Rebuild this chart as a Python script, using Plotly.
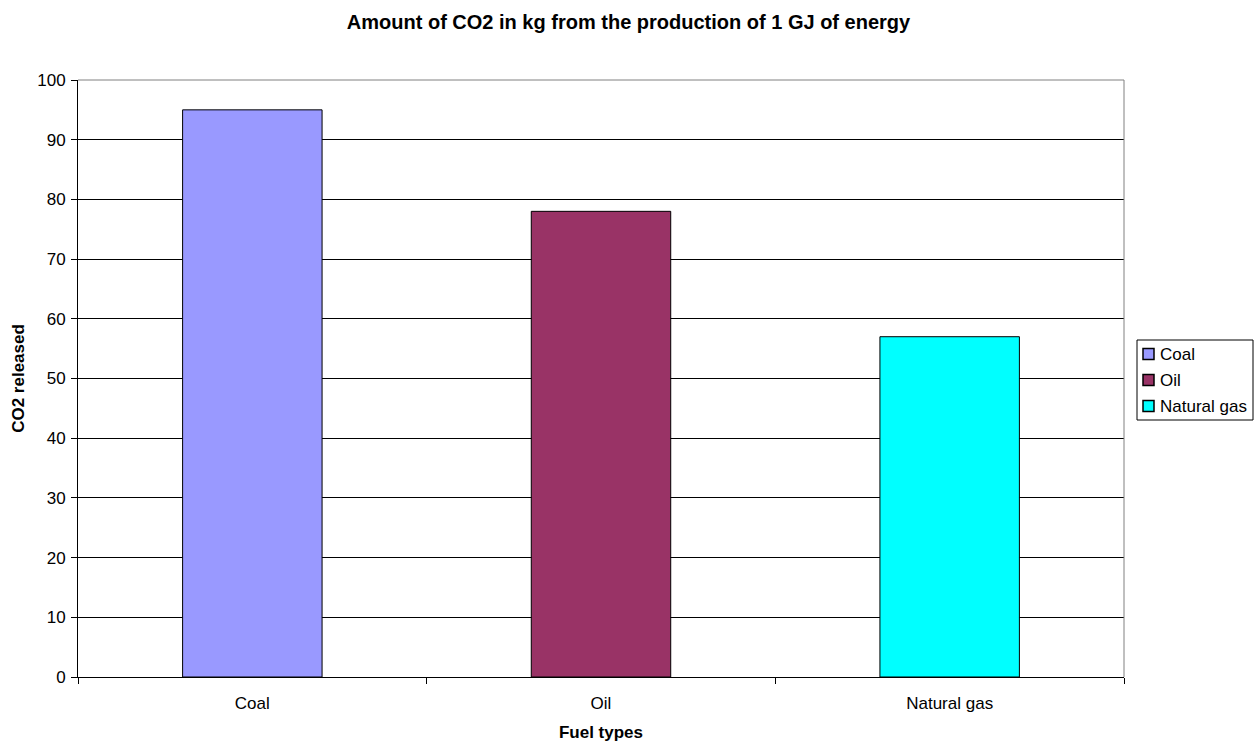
import plotly.graph_objects as go

fuels = ["Coal", "Oil", "Natural gas"]
co2_kg = [95, 78, 57]
colors = ["#9999FF", "#993366", "#00FFFF"]
y_ticks = [0, 10, 20, 30, 40, 50, 60, 70, 80, 90, 100]

font_family = "Liberation Sans, Arial, sans-serif"

W, H = 1257, 742
L, R, T, B = 78, 133, 80, 65
plot_w, plot_h = W - L - R, H - T - B


def px_x(px):
    return (px - L) / plot_w


def px_y(py):
    return (H - B - py) / plot_h


fig = go.Figure()
for name, value, color in zip(fuels, co2_kg, colors):
    fig.add_trace(go.Bar(
        x=[name], y=[value], name=name, showlegend=False,
        marker=dict(color=color, line=dict(color="black", width=1)),
        hoverinfo="x+y",
    ))

fig.update_layout(
    width=W, height=H,
    barmode="overlay", bargap=0.6,
    paper_bgcolor="white", plot_bgcolor="white",
    margin=dict(l=L, r=R, t=T, b=B, autoexpand=False),
    font=dict(family=font_family, size=17, color="black"),
    title=dict(
        text="<b>Amount of CO2 in kg from the production of 1 GJ of energy</b>",
        x=0.5, xanchor="center", y=1 - 22 / H, yanchor="middle",
        font=dict(size=20),
    ),
    xaxis=dict(
        categoryorder="array", categoryarray=fuels,
        showline=True, linecolor="black", linewidth=1,
        ticks="outside", tickson="boundaries", ticklen=6, tickcolor="black",
        ticklabelstandoff=11,
        title=dict(text="<b>Fuel types</b>", font=dict(size=17), standoff=13),
        showgrid=False, zeroline=False,
    ),
    yaxis=dict(
        range=[0, 100], tickvals=y_ticks,
        showline=True, linecolor="black", linewidth=1,
        ticks="outside", ticklen=6, tickcolor="black",
        ticklabelstandoff=2,
        showgrid=True, gridcolor="black", gridwidth=1,
        zeroline=False,
        title=dict(text="<b>CO2 released</b>", font=dict(size=17), standoff=8),
    ),
)

# Frame: gray top and right edges of the plot area
fig.add_shape(type="line", xref="paper", yref="paper", x0=0, x1=1, y0=1, y1=1,
              line=dict(color="#808080", width=1), layer="above")
fig.add_shape(type="line", xref="paper", yref="paper", x0=1, x1=1, y0=0, y1=1,
              line=dict(color="#808080", width=1), layer="above")

# Legend box with one square swatch and label per fuel
box_left, box_right, box_top, row_gap = 1137, 1253, 340, 26
first_row = 354
box_bottom = first_row + row_gap * (len(fuels) - 1) + 14
fig.add_shape(type="rect", xref="paper", yref="paper",
              x0=px_x(box_left), x1=px_x(box_right),
              y0=px_y(box_bottom), y1=px_y(box_top),
              line=dict(color="black", width=1), fillcolor="white", layer="above")
for i, (name, color) in enumerate(zip(fuels, colors)):
    cy = first_row + i * row_gap
    fig.add_shape(type="rect", xref="paper", yref="paper",
                  x0=px_x(1143), x1=px_x(1154),
                  y0=px_y(cy + 5.5), y1=px_y(cy - 5.5),
                  line=dict(color="black", width=1.5), fillcolor=color, layer="above")
    fig.add_annotation(xref="paper", yref="paper", x=px_x(1158), y=px_y(cy),
                       xanchor="left", yanchor="middle", text=name,
                       showarrow=False, font=dict(size=17))

fig.write_html("out.html")
